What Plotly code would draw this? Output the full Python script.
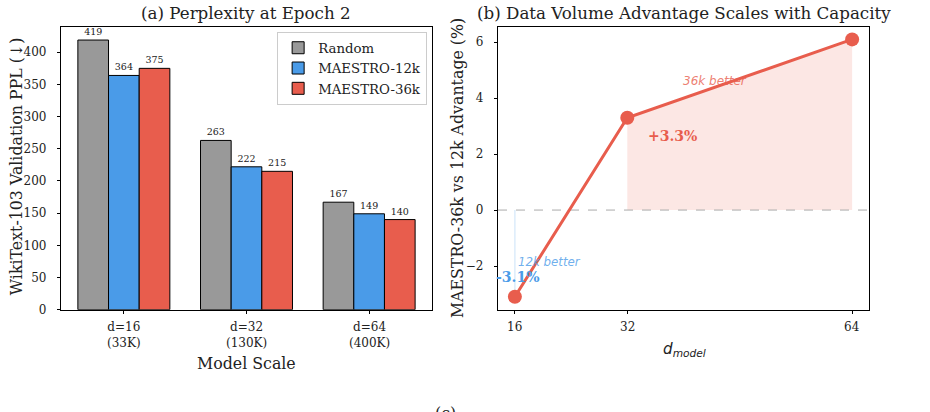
import plotly.graph_objects as go

# ---------------- data ----------------
scales = ["d=16<br>(33K)", "d=32<br>(130K)", "d=64<br>(400K)"]
ppl_random = [419, 263, 167]
ppl_12k = [364, 222, 149]
ppl_36k = [375, 215, 140]
ppl_ticks = [0, 50, 100, 150, 200, 250, 300, 350, 400]

d_model = [16, 32, 64]
advantage = [-3.1, 3.3, 6.1]
adv_labels = ["-3.1%", "+3.3%", "+6.1%"]
adv_ticks = [-2, 0, 2, 4, 6]

GRAY = "#999999"
BLUE = "#4A9BE8"
RED = "#E85D4D"
SERIF = "DejaVu Serif"
PAD = "<span style='color:rgba(0,0,0,0)'>0</span>"

fig = go.Figure()

xpos = list(range(len(scales)))
for name, vals, col in [("Random", ppl_random, GRAY),
                        ("MAESTRO-12k", ppl_12k, BLUE),
                        ("MAESTRO-36k", ppl_36k, RED)]:
    fig.add_trace(go.Bar(
        x=xpos, y=vals, name=name, marker=dict(color=col, line=dict(color="black", width=1)),
        text=[str(v) for v in vals], textposition="outside",
        textfont=dict(family=SERIF, size=9.5, color="#222"),
        cliponaxis=False, xaxis="x", yaxis="y"))

# ---- right panel ----
fig.add_trace(go.Scatter(
    x=[d_model[1], d_model[2], d_model[2], d_model[1]],
    y=[advantage[1], advantage[2], 0, 0],
    fill="toself", fillcolor="rgba(232,93,77,0.15)", line=dict(width=0),
    mode="lines", showlegend=False, hoverinfo="skip", xaxis="x2", yaxis="y2"))
fig.add_trace(go.Scatter(
    x=[d_model[0], d_model[0]], y=[0, advantage[0]], mode="lines",
    line=dict(color="rgba(74,155,232,0.2)", width=1.5),
    showlegend=False, hoverinfo="skip", xaxis="x2", yaxis="y2"))
fig.add_trace(go.Scatter(
    x=[13.6, 66.4], y=[0, 0], mode="lines",
    line=dict(color="#aaaaaa", width=1, dash="dash"),
    showlegend=False, hoverinfo="skip", xaxis="x2", yaxis="y2"))
fig.add_trace(go.Scatter(
    x=d_model, y=advantage, mode="lines+markers",
    line=dict(color=RED, width=3), marker=dict(color=RED, size=14),
    showlegend=False, cliponaxis=False, xaxis="x2", yaxis="y2"))

axis_common = dict(showline=True, linecolor="black", linewidth=1, mirror=True,
                   ticks="outside", ticklen=3.5, tickcolor="black",
                   showgrid=False, zeroline=False,
                   tickfont=dict(family=SERIF, size=12, color="#222"))

fig.update_layout(
    width=930, height=412, margin=dict(l=0, r=0, t=0, b=0),
    paper_bgcolor="white", plot_bgcolor="white",
    barmode="group", bargap=0.25, bargroupgap=0,
    xaxis=dict(domain=[0.0656, 0.4645], range=[-0.5125, 2.5125],
               tickvals=xpos, showticklabels=False, **axis_common),
    yaxis=dict(domain=[0.2354, 0.9345], range=[0, 440],
               tickvals=ppl_ticks, ticktext=[str(t) + PAD for t in ppl_ticks], **axis_common),
    xaxis2=dict(domain=[0.5355, 0.9344], range=[13.6, 66.4], anchor="y2",
                tickvals=d_model, showticklabels=False, **axis_common),
    yaxis2=dict(domain=[0.2354, 0.9345], range=[-3.56, 6.56], anchor="x2",
                tickvals=adv_ticks,
                ticktext=[str(t).replace("-", "\u2212") + PAD for t in adv_ticks],
                **axis_common),
    legend=dict(x=0.298, y=0.922, xanchor="left", yanchor="top",
                bgcolor="rgba(255,255,255,0.8)", bordercolor="#cccccc", borderwidth=1,
                font=dict(family=SERIF, size=13.3, color="#222"),
                tracegroupgap=0, itemwidth=30),
    font=dict(family=SERIF, color="#222"),
)


def pa(text, x, y, size=15.8, family=SERIF, angle=0, color="#222", xa="center", ya="middle"):
    return dict(text=text, x=x / 930, y=1 - y / 412, xref="paper", yref="paper",
                xanchor=xa, yanchor=ya, showarrow=False, textangle=angle,
                font=dict(family=family, size=size, color=color))


ann = [
    pa("(a) Perplexity at Epoch 2", 246, 13, size=16.7),
    pa("(b) Data Volume Advantage Scales with Capacity", 684, 13, size=16.7),
    pa("WikiText-103 Validation PPL (\u2193)", 16, 169, angle=-90),
    pa("Model Scale", 246, 370),
    pa("MAESTRO-36k vs 12k Advantage (%)", 457, 171, angle=-90),
    pa("<i>d</i><sub><i>model</i></sub>", 684, 356, size=15.2, family="DejaVu Sans"),
    pa("(c)", 445, 409, ya="top"),
]

# x tick labels as annotations tied to the axes' data positions
TICK_Y = 1 - 324 / 412
for xi, lab in zip(xpos, scales):
    ann.append(dict(text=lab, x=xi, y=TICK_Y, xref="x", yref="paper", xanchor="center",
                    yanchor="top", showarrow=False,
                    font=dict(family=SERIF, size=12, color="#222")))
for d in d_model:
    ann.append(dict(text=str(d), x=d, y=TICK_Y, xref="x2", yref="paper", xanchor="center",
                    yanchor="top", showarrow=False,
                    font=dict(family=SERIF, size=12, color="#222")))


def da(text, x, y, size, color, family=SERIF, xa="center"):
    return dict(text=text, x=x, y=y, xref="x2", yref="y2", xanchor=xa, yanchor="middle",
                showarrow=False, font=dict(family=family, size=size, color=color))


ann += [
    da("<b>" + adv_labels[2] + "</b>", 70.4, 5.47, 14, RED),
    da("<b>" + adv_labels[1] + "</b>", 38.4, 2.63, 14, RED),
    da("<b>" + adv_labels[0] + "</b>", 16.4, -2.39, 14, BLUE),
    da("<i>36k better</i>", 44.5, 4.6, 12, "rgba(232,93,77,0.8)", family="DejaVu Sans"),
    da("<i>12k better</i>", 16.1, -1.86, 11.8, "rgba(74,155,232,0.8)", family="DejaVu Sans", xa="left"),
]
fig.update_layout(annotations=ann)

fig.write_html("out.html")
